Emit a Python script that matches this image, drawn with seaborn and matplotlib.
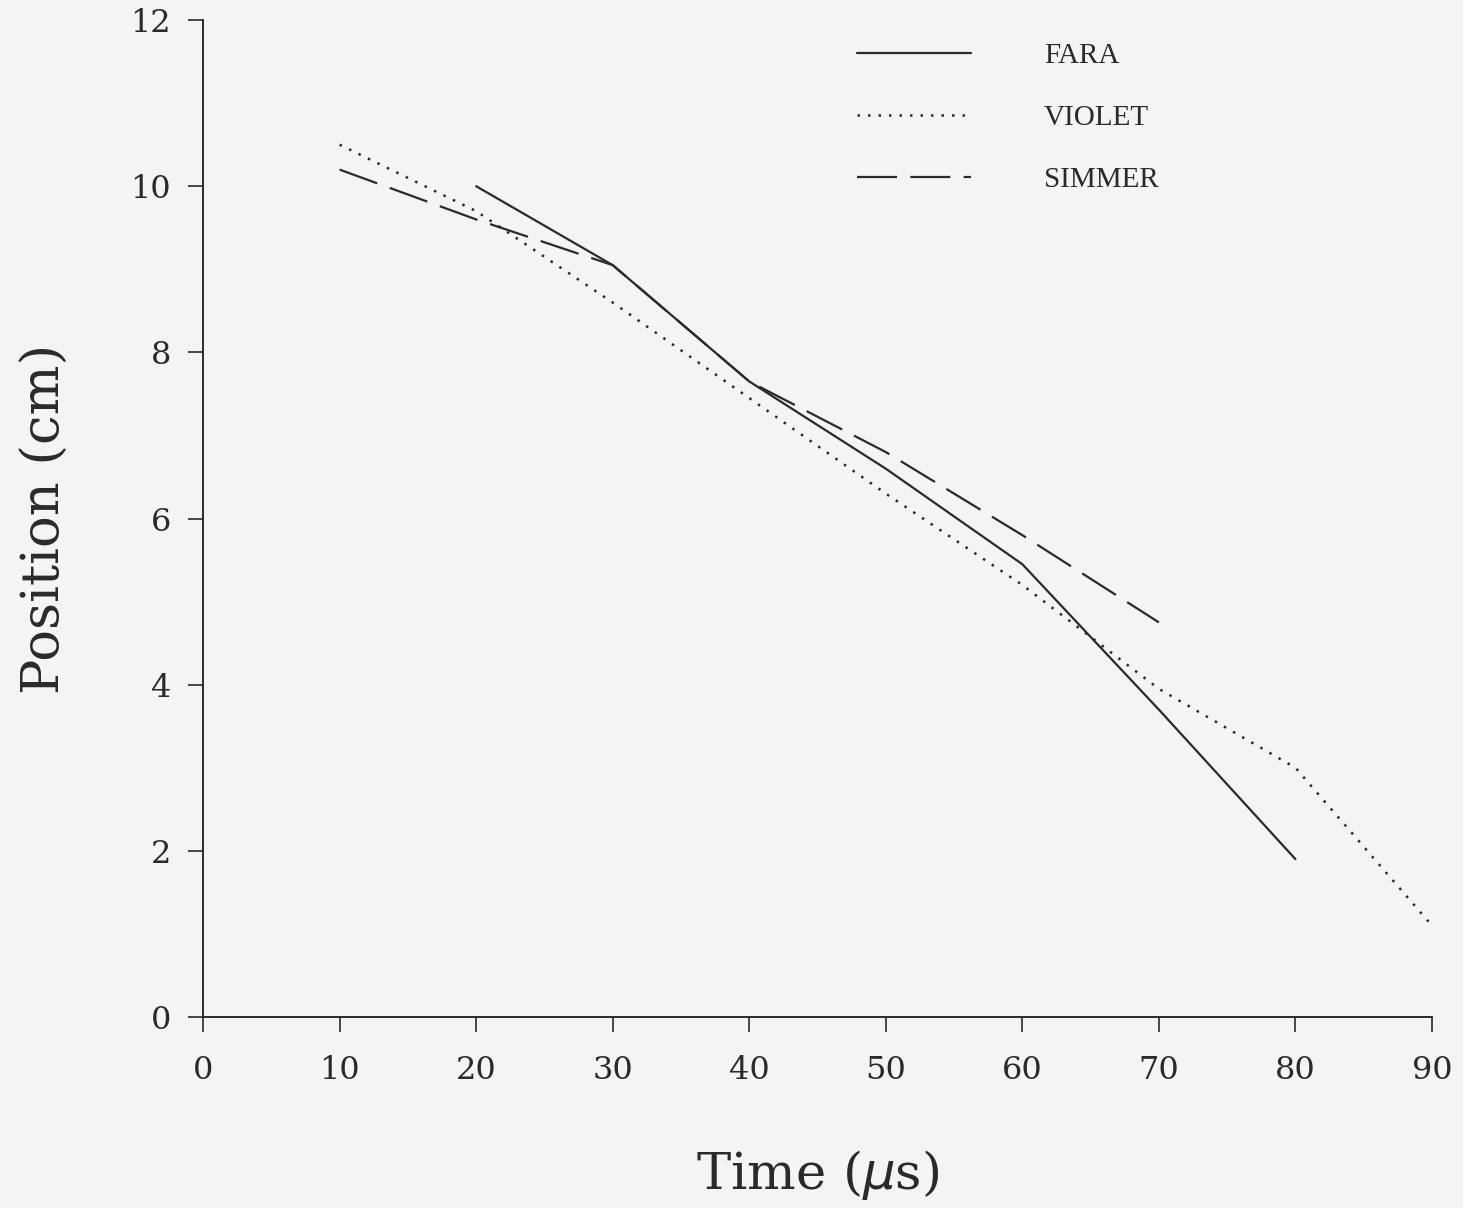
import matplotlib
matplotlib.use("Agg")
import matplotlib.pyplot as plt
import seaborn as sns
import pandas as pd

# Data
fara_t = [20, 30, 40, 50, 60, 70, 80]
fara_pos = [10.0, 9.05, 7.65, 6.6, 5.45, 3.7, 1.9]

violet_t = [10, 20, 30, 40, 50, 60, 70, 80, 90]
violet_pos = [10.5, 9.7, 8.6, 7.45, 6.3, 5.2, 3.95, 3.0, 1.1]

simmer_t = [10, 20, 30, 40, 50, 60, 70]
simmer_pos = [10.2, 9.6, 9.05, 7.65, 6.8, 5.8, 4.75]

x_ticks = [0, 10, 20, 30, 40, 50, 60, 70, 80, 90]
y_ticks = [0, 2, 4, 6, 8, 10, 12]

sns.set_style("ticks")
plt.rcParams['font.family'] = ['DejaVu Serif']

bg = '#f4f4f4'
fig = plt.figure(figsize=(14.63, 12.08), dpi=100, facecolor=bg)
ax = fig.add_axes([0.1388, 0.1581, 0.8400, 0.8253])
ax.set_facecolor(bg)

ink = '#2a2a2a'
sns.lineplot(x=fara_t, y=fara_pos, ax=ax, color=ink, lw=1.6, label='FARA')
sns.lineplot(x=violet_t, y=violet_pos, ax=ax, color=ink, lw=1.8,
             linestyle=(0, (1.0, 3.2)), label='VIOLET')
sns.lineplot(x=simmer_t, y=simmer_pos, ax=ax, color=ink, lw=1.6,
             linestyle=(0, (18, 6)), label='SIMMER')

ax.set_xlim(0, 90)
ax.set_ylim(0, 12)
ax.set_xticks(x_ticks)
ax.set_yticks(y_ticks)
ax.tick_params(axis='both', labelsize=23, colors=ink, width=1.2, length=11)
ax.tick_params(axis='x', pad=16)
ax.tick_params(axis='y', pad=12)
for s in ['top', 'right']:
    ax.spines[s].set_visible(False)
for s in ['left', 'bottom']:
    ax.spines[s].set_color(ink)
    ax.spines[s].set_linewidth(1.4)

ax.set_xlabel('Time ($\\mu$s)', fontsize=37, color=ink, labelpad=45)
ax.set_ylabel('Position (cm)', fontsize=38, color=ink, labelpad=43)

leg = ax.legend(loc='upper left', bbox_to_anchor=(0.518, 0.995), frameon=False,
                prop={'family': 'Liberation Serif', 'size': 21},
                handlelength=3.9, handletextpad=2.5, labelspacing=1.22,
                borderpad=0.1)
for t in leg.get_texts():
    t.set_color(ink)

fig.savefig('out.png', dpi=100, facecolor=bg)
